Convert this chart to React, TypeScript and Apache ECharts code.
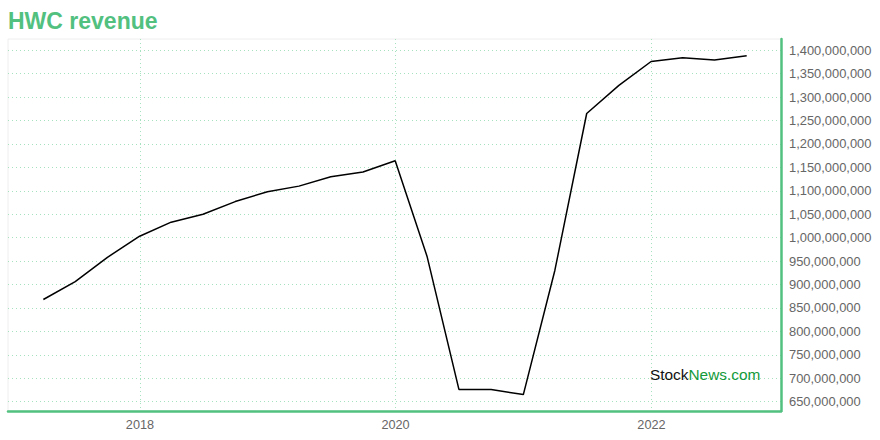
import React, { useEffect, useRef } from "react";
import * as echarts from "echarts";

const chartTitle = "HWC revenue";

const quarterEnds = [
  "2017-03-31", "2017-06-30", "2017-09-30", "2017-12-31",
  "2018-03-31", "2018-06-30", "2018-09-30", "2018-12-31",
  "2019-03-31", "2019-06-30", "2019-09-30", "2019-12-31",
  "2020-03-31", "2020-06-30", "2020-09-30", "2020-12-31",
  "2021-03-31", "2021-06-30", "2021-09-30", "2021-12-31",
  "2022-03-31", "2022-06-30", "2022-09-30",
];

const revenue = [
  868000000, 906000000, 958000000, 1003000000,
  1033000000, 1050000000, 1077000000, 1098000000,
  1110000000, 1130000000, 1140000000, 1164000000,
  960000000, 676000000, 676000000, 665000000,
  930000000, 1265000000, 1325000000, 1376000000,
  1384000000, 1379000000, 1388000000,
];

const yTickValues = [
  650000000, 700000000, 750000000, 800000000, 850000000, 900000000,
  950000000, 1000000000, 1050000000, 1100000000, 1150000000, 1200000000,
  1250000000, 1300000000, 1350000000, 1400000000,
];

const xTickDates = ["2018-01-01", "2020-01-01", "2022-01-01"];

const xMin = "2016-12-20";
const xMax = "2023-01-06";
const yMin = 630000000;
const yMax = 1424000000;

const GREEN = "#52c07f";
const GRID_GREEN = "#a6e2bd";
const FONT = "Liberation Sans, Arial, Helvetica, sans-serif";

const ts = (d: string) => new Date(d + "T00:00:00Z").getTime();

export default function App() {
  const ref = useRef<HTMLDivElement>(null);

  useEffect(() => {
    if (!ref.current) return;
    const chart = echarts.init(ref.current, undefined, { renderer: "svg" });
    const seriesData = quarterEnds.map((d, i) => [ts(d), revenue[i]]);
    const xTicks = xTickDates.map(ts);
    chart.setOption({
      animation: false,
      backgroundColor: "#ffffff",
      textStyle: { fontFamily: FONT },
      grid: {
        left: 8,
        top: 39,
        right: 99,
        bottom: 29,
        show: true,
        borderColor: "#eeeeee",
        borderWidth: 1,
        containLabel: false,
      },
      xAxis: {
        type: "value",
        min: ts(xMin),
        max: ts(xMax),
        axisLine: { show: true, onZero: false, lineStyle: { color: GREEN, width: 2.5 } },
        axisTick: { show: false, customValues: xTicks },
        axisLabel: {
          customValues: xTicks,
          color: "#666666",
          fontSize: 12.7,
          fontFamily: FONT,
          margin: 7,
          formatter: (v: number) => String(new Date(v).getUTCFullYear()),
        },
        splitLine: {
          show: true,
          lineStyle: { color: GRID_GREEN, type: [1, 3], width: 1 },
        },
      },
      yAxis: {
        type: "value",
        position: "right",
        min: yMin,
        max: yMax,
        axisLine: { show: true, lineStyle: { color: GREEN, width: 2.5 } },
        axisTick: { show: false, customValues: yTickValues },
        axisLabel: {
          customValues: yTickValues,
          color: "#666666",
          fontSize: 12.9,
          fontFamily: FONT,
          margin: 8,
          formatter: (v: number) => v.toLocaleString("en-US"),
        },
        splitLine: {
          show: true,
          lineStyle: { color: GRID_GREEN, type: [1, 3], width: 1 },
        },
      },
      graphic: [
        {
          type: "text",
          left: 8,
          top: 9,
          style: {
            text: chartTitle,
            fill: GREEN,
            font: `bold 23px ${FONT}`,
          },
        },
        {
          type: "text",
          x: 650,
          y: 374,
          z: 10,
          style: {
            text: "{a|Stock}{b|News.com}",
            verticalAlign: "middle",
            rich: {
              a: { fill: "#111111", fontSize: 15.4, fontFamily: FONT },
              b: { fill: "#139a3a", fontSize: 15.4, fontFamily: FONT },
            },
          },
        },
      ],
      series: [
        {
          type: "line",
          data: seriesData,
          showSymbol: false,
          symbol: "none",
          lineStyle: { color: "#000000", width: 1.5 },
        },
      ],
    });
    return () => chart.dispose();
  }, []);

  return (
    <div
      ref={ref}
      style={{ position: "fixed", left: 0, top: 0, width: 880, height: 440 }}
    />
  );
}
